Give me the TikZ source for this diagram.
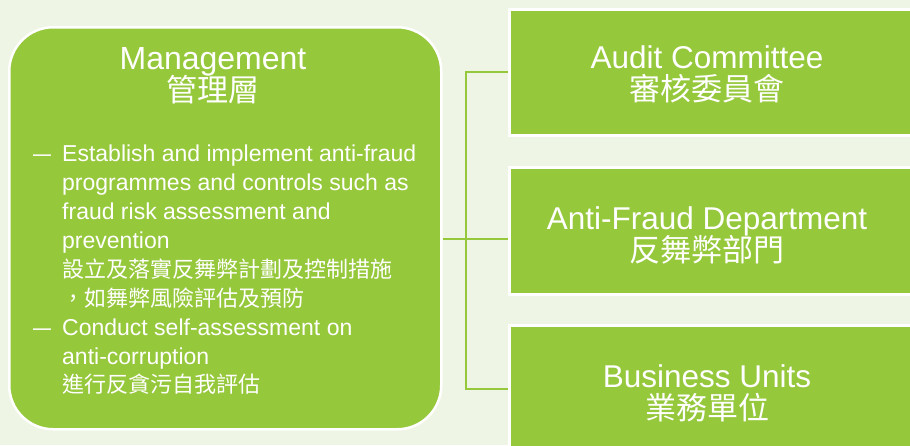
\documentclass[tikz,border=0pt]{standalone}
\usepackage{fontspec}
\setmainfont{Liberation Sans}
\newfontfamily\cjk{Noto Sans CJK TC}
\definecolor{bg}{HTML}{EFF5E5}
\definecolor{leaf}{HTML}{96C83C}
\newcommand{\cjkb}{\cjk\fontsize{22}{28.9}\selectfont}
\newcommand{\bdash}{\scalebox{0.78}[1]{—}}
\begin{document}
\begin{tikzpicture}[x=1pt,y=-1pt,
  panel/.style={draw=white, line width=2.5pt, fill=leaf, inner sep=0, anchor=north west},
  conn/.style={draw=leaf, line width=2.2pt},
  title/.style={anchor=base, inner sep=0, text=white, font=\fontsize{31.5}{32}\selectfont},
  subtitle/.style={anchor=base, inner sep=0, text=white, font=\cjk\fontsize{31}{32}\selectfont}]
\path[use as bounding box, fill=bg] (0,0) rectangle (910,445);
\clip (0,0) rectangle (910,445);
% boxes
\node[panel, rounded corners=44pt, minimum width=432pt, minimum height=402pt] (mgmt) at (8,26) {};
\node[panel, minimum width=420pt, minimum height=126pt] (audit) at (508,8) {};
\node[panel, minimum width=420pt, minimum height=127pt] (anti) at (508,166) {};
\node[panel, minimum width=420pt, minimum height=128pt] (biz) at (508,324) {};
% connectors
\coordinate (hub) at (466,239);
\draw[conn] (audit.west) -| (hub) |- (biz.west);
\draw[conn] (hub -| mgmt.east) -- (hub -| anti.west);
% texts
\node[title, font=\fontsize{32}{32}\selectfont] (mgmtEn) at (213,69) {Management};
\node[subtitle] (mgmtZh) at (213,101) {管理層};
\node[title] (auditEn) at (707,68) {Audit Committee};
\node[subtitle] (auditZh) at (707,100) {審核委員會};
\node[title] (antiEn) at (707,229) {Anti-Fraud Department};
\node[subtitle] (antiZh) at (707,261) {反舞弊部門};
\node[title] (bizEn) at (707,387) {Business Units};
\node[subtitle] (bizZh) at (707,419) {業務單位};
\node[anchor=north west, inner sep=0, text=white, font=\fontsize{23}{28.9}\selectfont] (body) at (33,141.3) {%
\begin{tabular}{@{}p{29pt}@{}l@{}}
\bdash&Establish and implement anti-fraud\\
&programmes and controls such as\\
&fraud risk assessment and\\
&prevention\\
&{\cjkb 設立及落實反舞弊計劃及控制措施}\\
&{\cjkb ，如舞弊風險評估及預防}\\
\bdash&Conduct self-assessment on\\
&anti-corruption\\
&{\cjkb 進行反貪污自我評估}
\end{tabular}};
\end{tikzpicture}
\end{document}
